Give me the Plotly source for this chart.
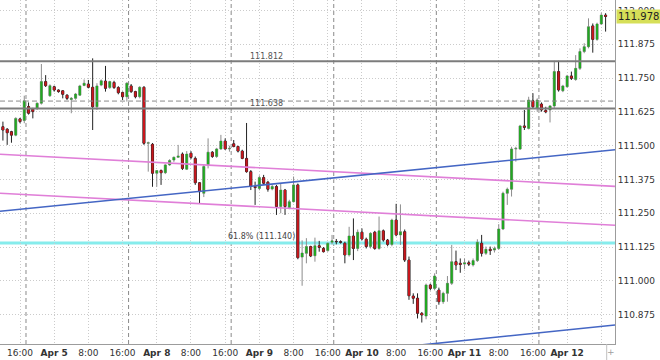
import plotly.graph_objects as go

# ---------------- data (hourly candles, index 0 = 16:00 Apr 4) ----------------
candle_idx = list(range(-4, 138))

opens = [111.570, 111.561, 111.552, 111.539, 111.599, 111.593, 111.645, 111.635, 111.638, 111.657,
         111.737, 111.685, 111.718, 111.706, 111.703, 111.687, 111.671, 111.675, 111.687, 111.723,
         111.728, 111.716, 111.644, 111.724, 111.739, 111.715, 111.734, 111.715, 111.697, 111.681,
         111.721, 111.700, 111.681, 111.716, 111.509, 111.505, 111.398, 111.408, 111.400, 111.429,
         111.447, 111.457, 111.469, 111.413, 111.472, 111.453, 111.363, 111.324, 111.429, 111.476,
         111.460, 111.488, 111.517, 111.488, 111.507, 111.497, 111.480, 111.453, 111.404, 111.349,
         111.342, 111.382, 111.365, 111.340, 111.349, 111.275, 111.336, 111.271, 111.293, 111.355,
         111.088, 111.102, 111.127, 111.093, 111.130, 111.120, 111.112, 111.143, 111.146, 111.145,
         111.139, 111.096, 111.166, 111.120, 111.180, 111.154, 111.127, 111.180, 111.120, 111.185,
         111.151, 111.135, 111.225, 111.170, 111.182, 111.077, 110.944, 110.936, 110.880, 110.870,
         110.985, 110.972, 110.966, 110.923, 110.954, 110.991, 111.071, 111.065, 111.062, 111.067,
         111.059, 111.075, 111.139, 111.102, 111.117, 111.114, 111.120, 111.192, 111.324, 111.339,
         111.488, 111.488, 111.573, 111.564, 111.666, 111.638, 111.654, 111.630, 111.632, 111.647,
         111.774, 111.703, 111.718, 111.758, 111.745, 111.786, 111.848, 111.866, 111.943, 111.893,
         111.950, 111.983]
highs = [111.589, 111.565, 111.555, 111.605, 111.603, 111.685, 111.660, 111.640, 111.660, 111.802,
         111.761, 111.727, 111.722, 111.708, 111.705, 111.690, 111.680, 111.695, 111.725, 111.745,
         111.743, 111.823, 111.731, 111.745, 111.795, 111.740, 111.740, 111.720, 111.700, 111.735,
         111.728, 111.703, 111.720, 111.720, 111.515, 111.510, 111.410, 111.412, 111.432, 111.450,
         111.460, 111.503, 111.475, 111.480, 111.480, 111.460, 111.365, 111.430, 111.527, 111.480,
         111.492, 111.540, 111.527, 111.500, 111.521, 111.500, 111.485, 111.584, 111.410, 111.367,
         111.390, 111.392, 111.370, 111.355, 111.355, 111.361, 111.340, 111.300, 111.386, 111.360,
         111.150, 111.158, 111.130, 111.160, 111.148, 111.125, 111.142, 111.170, 111.155, 111.150,
         111.145, 111.200, 111.231, 111.190, 111.194, 111.160, 111.180, 111.185, 111.238, 111.190,
         111.155, 111.230, 111.285, 111.283, 111.190, 111.090, 110.954, 110.954, 110.885, 110.990,
         110.990, 111.028, 110.975, 110.960, 111.018, 111.133, 111.112, 111.083, 111.083, 111.075,
         111.083, 111.154, 111.170, 111.127, 111.127, 111.127, 111.210, 111.330, 111.345, 111.496,
         111.496, 111.577, 111.632, 111.681, 111.694, 111.675, 111.660, 111.644, 111.650, 111.814,
         111.814, 111.725, 111.762, 111.774, 111.835, 111.860, 111.879, 111.971, 111.952, 111.955,
         111.992, 111.990]
lows = [111.519, 111.503, 111.511, 111.535, 111.583, 111.583, 111.615, 111.601, 111.632, 111.652,
        111.717, 111.680, 111.700, 111.696, 111.675, 111.669, 111.620, 111.670, 111.684, 111.720,
        111.712, 111.558, 111.632, 111.720, 111.700, 111.710, 111.710, 111.690, 111.669, 111.663,
        111.695, 111.675, 111.675, 111.503, 111.404, 111.348, 111.348, 111.355, 111.395, 111.425,
        111.440, 111.455, 111.410, 111.410, 111.450, 111.355, 111.287, 111.310, 111.416, 111.455,
        111.455, 111.485, 111.485, 111.478, 111.494, 111.475, 111.450, 111.400, 111.336, 111.281,
        111.335, 111.355, 111.330, 111.335, 111.244, 111.250, 111.244, 111.265, 111.290, 111.080,
        110.982, 111.065, 111.088, 111.071, 111.108, 111.105, 111.108, 111.135, 111.135, 111.138,
        111.065, 111.090, 111.077, 111.110, 111.150, 111.120, 111.120, 111.115, 111.115, 111.145,
        111.128, 111.128, 111.165, 111.133, 111.070, 110.930, 110.915, 110.861, 110.846, 110.858,
        110.965, 110.965, 110.912, 110.915, 110.923, 110.985, 111.040, 111.030, 111.043, 111.055,
        111.053, 111.070, 111.090, 111.096, 111.096, 111.105, 111.115, 111.188, 111.281, 111.312,
        111.441, 111.484, 111.558, 111.560, 111.638, 111.626, 111.626, 111.620, 111.586, 111.640,
        111.700, 111.698, 111.715, 111.743, 111.740, 111.780, 111.842, 111.860, 111.844, 111.888,
        111.947, 111.922]
closes = [111.558, 111.548, 111.539, 111.601, 111.589, 111.666, 111.620, 111.626, 111.657, 111.737,
          111.722, 111.722, 111.706, 111.700, 111.690, 111.675, 111.675, 111.691, 111.721, 111.731,
          111.716, 111.644, 111.721, 111.740, 111.712, 111.737, 111.715, 111.696, 111.681, 111.731,
          111.700, 111.681, 111.716, 111.509, 111.511, 111.398, 111.408, 111.400, 111.429, 111.445,
          111.457, 111.462, 111.416, 111.469, 111.457, 111.363, 111.330, 111.423, 111.476, 111.460,
          111.488, 111.517, 111.488, 111.490, 111.497, 111.480, 111.453, 111.404, 111.349, 111.345,
          111.382, 111.361, 111.339, 111.349, 111.275, 111.336, 111.275, 111.293, 111.355, 111.086,
          111.103, 111.127, 111.092, 111.130, 111.124, 111.108, 111.139, 111.148, 111.145, 111.143,
          111.096, 111.166, 111.120, 111.180, 111.155, 111.127, 111.176, 111.120, 111.185, 111.151,
          111.135, 111.225, 111.170, 111.182, 111.077, 110.945, 110.936, 110.880, 110.874, 110.985,
          110.972, 111.018, 110.923, 110.954, 110.991, 111.071, 111.059, 111.061, 111.067, 111.062,
          111.075, 111.143, 111.102, 111.117, 111.112, 111.120, 111.192, 111.324, 111.339, 111.488,
          111.490, 111.573, 111.568, 111.669, 111.644, 111.669, 111.632, 111.625, 111.647, 111.774,
          111.706, 111.721, 111.758, 111.749, 111.786, 111.848, 111.866, 111.940, 111.893, 111.950,
          111.983, 111.978]

# x-axis labels (every 8 hours)
tick_pos = [0, 8, 16, 24, 32, 40, 48, 56, 64, 72, 80, 88, 96, 104, 112, 120, 128, 136]
tick_text = ["16:00", "<b>Apr 5</b>", "8:00", "16:00", "<b>Apr 8</b>", "8:00", "16:00",
             "<b>Apr 9</b>", "8:00", "16:00", "<b>Apr 10</b>", "8:00", "16:00",
             "<b>Apr 11</b>", "8:00", "16:00", "<b>Apr 12</b>", ""]
day_separators = [1.4, 25.4, 49.4, 73.4, 97.4, 121.4]

price_ticks = [110.875, 111.000, 111.125, 111.250, 111.375, 111.500, 111.625, 111.750, 111.875, 112.000]

# horizontal levels
level_prices = [111.812, 111.638]
level_labels = ["111.812", "111.638"]
dashed_level = 111.665
fib_price = 111.140
fib_label = "61.8% (111.140)"
last_price = 111.978

# trend lines (candle index, price)
pink_upper_x, pink_upper_y = [-4.68, 139.2], [111.4682, 111.3495]
pink_lower_x, pink_lower_y = [-4.68, 139.2], [111.3240, 111.2056]
blue_upper_x, blue_upper_y = [-4.68, 139.2], [111.2574, 111.4848]
blue_lower_x, blue_lower_y = [80.0, 139.2], [110.7406, 110.8369]

x_range = [-4.68, 139.2]
y_range = [110.7666, 112.0388]

FONT = "DejaVu Sans"
GRID = "#cbcbcb"
fig = go.Figure()

# trend lines
for xs, ys, col, w in [(pink_upper_x, pink_upper_y, "#e07fd8", 1.6),
                       (pink_lower_x, pink_lower_y, "#e07fd8", 1.6),
                       (blue_upper_x, blue_upper_y, "#4466c4", 1.6),
                       (blue_lower_x, blue_lower_y, "#4466c4", 1.6)]:
    fig.add_trace(go.Scatter(x=xs, y=ys, mode="lines", line=dict(color=col, width=w),
                             hoverinfo="skip", showlegend=False))

# candle wicks / outlines
fig.add_trace(go.Candlestick(
    x=candle_idx, open=opens, high=highs, low=lows, close=closes,
    increasing=dict(line=dict(color="#8c8c8c", width=1), fillcolor="#8c8c8c"),
    decreasing=dict(line=dict(color="#222222", width=1), fillcolor="#222222"),
    whiskerwidth=0, hoverinfo="skip", showlegend=False))
# candle bodies
fig.add_trace(go.Candlestick(
    x=candle_idx, open=opens, high=highs, low=lows, close=closes,
    increasing=dict(line=dict(color="#21a821", width=0), fillcolor="#21a821"),
    decreasing=dict(line=dict(color="#c8161c", width=0), fillcolor="#c8161c"),
    whiskerwidth=0, hoverinfo="skip", showlegend=False))

shapes = []
for d in day_separators:
    shapes.append(dict(type="line", xref="x", yref="paper", x0=d, x1=d, y0=0, y1=1,
                       line=dict(color="#8a8a8a", width=1, dash="4px,3px"), layer="below"))
for p in level_prices:
    shapes.append(dict(type="line", xref="paper", yref="y", x0=0, x1=1, y0=p, y1=p,
                       line=dict(color="#7c7c7c", width=2)))
shapes.append(dict(type="line", xref="paper", yref="y", x0=0, x1=1, y0=dashed_level, y1=dashed_level,
                   line=dict(color="#8a8a8a", width=1, dash="5px,3px")))
shapes.append(dict(type="line", xref="paper", yref="y", x0=0, x1=1, y0=fib_price, y1=fib_price,
                   line=dict(color="#86ecec", width=3), layer="below"))
shapes.append(dict(type="line", xref="paper", yref="paper", x0=0.9865, x1=0.9865, y0=0, y1=-0.05,
                   line=dict(color="#c0c0c0", width=1)))

annotations = []
for p, t in zip(level_prices, level_labels):
    annotations.append(dict(x=57.6, y=p, xref="x", yref="y", text=t, showarrow=False,
                            xanchor="center", yanchor="bottom", yshift=-2,
                            font=dict(family=FONT, size=8, color="#555555")))
annotations.append(dict(x=64.8, y=fib_price, xref="x", yref="y", text=fib_label, showarrow=False,
                        xanchor="right", yanchor="bottom", yshift=0,
                        font=dict(family=FONT, size=8, color="#444444")))
annotations.append(dict(x=1, y=last_price, xref="paper", yref="y", text=f"{last_price:.3f}",
                        showarrow=False, xanchor="left", yanchor="middle", xshift=1,
                        bgcolor="#d6df58", borderpad=1,
                        font=dict(family=FONT, size=10, color="#222222")))
annotations.append(dict(x=0.9935, y=-0.024, xref="paper", yref="paper", text="+", showarrow=False,
                        xanchor="center", yanchor="middle",
                        font=dict(family=FONT, size=9, color="#a0a0a0")))

fig.update_layout(
    width=660, height=360,
    margin=dict(l=0, r=45, t=0, b=16),
    paper_bgcolor="white", plot_bgcolor="white",
    showlegend=False, shapes=shapes, annotations=annotations,
    font=dict(family=FONT, size=9, color="#333333"),
    xaxis=dict(range=x_range, tickmode="array", tickvals=tick_pos, ticktext=tick_text,
               showgrid=True, gridcolor=GRID, griddash="1px,2px", gridwidth=1,
               showline=True, linecolor="#9c9c9c", linewidth=1, ticks="", zeroline=False,
               rangeslider=dict(visible=False), fixedrange=True,
               tickfont=dict(family=FONT, size=9, color="#333333")),
    yaxis=dict(range=y_range, side="right", tickmode="array", tickvals=price_ticks,
               ticktext=[f"{v:.3f}" for v in price_ticks],
               showgrid=True, gridcolor=GRID, griddash="1px,2px", gridwidth=1,
               showline=True, linecolor="#9c9c9c", linewidth=1, ticks="", zeroline=False,
               fixedrange=True, tickfont=dict(family=FONT, size=9, color="#333333")),
)

fig.write_html("out.html")
